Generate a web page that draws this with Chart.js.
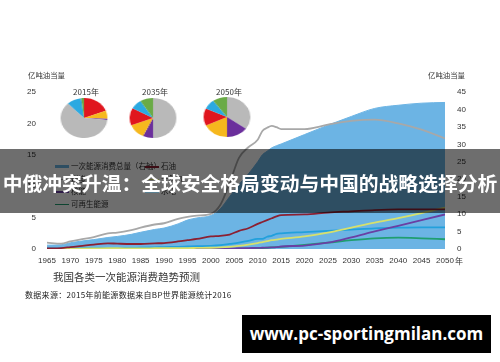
<!DOCTYPE html>
<html>
<head>
<meta charset="utf-8">
<script src="https://cdn.jsdelivr.net/npm/chart.js@4.4.1/dist/chart.umd.min.js"></script>
<style>
    body { margin: 0; background: #fff; }
    #wrap { position: relative; width: 500px; height: 362px; overflow: hidden; font-family: "Noto Sans CJK SC", "Liberation Sans", sans-serif; }
    #mainChart { position: absolute; left: 0; top: 0; }
    .t { position: absolute; white-space: nowrap; line-height: 1; color: #333; }
    .pie { position: absolute; width: 40px; height: 40px; transform: scaleX(1.17); }
    .lg { position: absolute; height: 8px; white-space: nowrap; font-size: 7.5px; line-height: 8px; color: #333; }
    .lg i { display: inline-block; width: 14px; vertical-align: middle; margin-right: 2px; }
    #banner { position: absolute; left: 0; top: 149px; width: 500px; height: 64px; background: rgba(0, 0, 0, 0.57); }
    #bannerText { position: absolute; left: 0; top: 173px; width: 500px; text-align: center; color: #fff; font-weight: bold; font-size: 19.8px; line-height: 20px; white-space: nowrap; }
    #mark { position: absolute; left: 242px; top: 315px; width: 249px; height: 38px; background: #000; color: #fff; font-family: "Open Sans", sans-serif; font-weight: bold; font-size: 17px; line-height: 38px; text-align: center; }
</style>
</head>
<body>
<div id="wrap">
    <canvas id="mainChart" width="500" height="362"></canvas>

    <div class="t" style="left:28px; top:71px; font-size:7.4px;">亿吨油当量</div>
    <div class="t" style="left:428px; top:71px; font-size:7.4px;">亿吨油当量</div>
    <div class="t" style="left:455px; top:257px; font-size:8px;">年</div>

    <div class="t" id="pt0" style="font-size:8px;"></div>
    <div class="t" id="pt1" style="font-size:8px;"></div>
    <div class="t" id="pt2" style="font-size:8px;"></div>
    <div class="pie" style="left:64px; top:98px;"><canvas id="pie0" width="40" height="40"></canvas></div>
    <div class="pie" style="left:133px; top:98px;"><canvas id="pie1" width="40" height="40"></canvas></div>
    <div class="pie" style="left:207px; top:97px;"><canvas id="pie2" width="40" height="40"></canvas></div>

    <div id="legend"></div>

    <div class="t" style="left:53px; top:272px; font-size:10.5px; color:#333;">我国各类一次能源消费趋势预测</div>
    <div class="t" style="left:25px; top:291px; font-size:8px; color:#222; letter-spacing:0.3px;">数据来源：2015年前能源数据来自BP世界能源统计2016</div>

    <div id="banner"></div>
    <div id="bannerText">中俄冲突升温：全球安全格局变动与中国的战略选择分析</div>
    <div id="mark">www.pc-sportingmilan.com</div>
</div>

<script>
// years (irregular steps where the curves bend)
var years = [1965, 1968, 1970, 1972, 1975, 1978, 1980, 1983, 1985, 1988, 1990, 1993, 1995, 1997,
    2000, 2002, 2004, 2006, 2008, 2010, 2011, 2012, 2013, 2014, 2015,
    2020, 2025, 2030, 2035, 2040, 2045, 2050];

// 一次能源消费总量（右轴）
var totalEnergy = [1.1, 1.2, 1.8, 2.2, 2.7, 3.3, 3.6, 4.2, 4.8, 5.6, 6.0, 7.2, 8.3, 8.9,
    9.6, 11.5, 15.0, 18.5, 21.5, 25.0, 27.0, 28.0, 29.0, 29.6, 30.1,
    32.8, 35.5, 38.0, 40.3, 41.2, 41.8, 42.0];
var coal = [1.0, 0.85, 1.2, 1.5, 1.9, 2.5, 2.6, 3.0, 3.4, 3.9, 4.1, 4.8, 5.1, 5.3,
    5.6, 7.0, 10.5, 14.5, 16.2, 17.4, 18.8, 19.3, 19.6, 19.4, 19.1,
    19.1, 19.8, 20.4, 20.6, 20.0, 19.0, 17.6];
var oil = [0.1, 0.15, 0.3, 0.45, 0.7, 0.9, 0.85, 0.8, 0.8, 0.9, 0.95, 1.2, 1.4, 1.6,
    2.0, 2.1, 2.3, 2.9, 3.3, 4.0, 4.3, 4.6, 4.9, 5.2, 5.4,
    5.5, 5.8, 6.0, 6.2, 6.3, 6.3, 6.3];
var gas = [0.02, 0.03, 0.04, 0.05, 0.08, 0.12, 0.12, 0.1, 0.1, 0.12, 0.13, 0.14, 0.15, 0.17,
    0.2, 0.25, 0.35, 0.5, 0.7, 0.95, 1.1, 1.25, 1.4, 1.5, 1.6,
    2.0, 2.6, 3.4, 4.2, 4.9, 5.7, 6.6];
var nuclear = [0, 0, 0, 0, 0, 0, 0, 0, 0, 0, 0, 0.01, 0.03, 0.03,
    0.04, 0.06, 0.1, 0.12, 0.15, 0.17, 0.2, 0.22, 0.25, 0.3, 0.4,
    0.55, 1.0, 1.85, 2.8, 3.7, 4.6, 5.5];
var hydro = [0.1, 0.1, 0.12, 0.13, 0.15, 0.13, 0.13, 0.18, 0.2, 0.25, 0.3, 0.35, 0.4, 0.45,
    0.5, 0.6, 0.8, 1.0, 1.3, 1.6, 1.6, 1.95, 2.1, 2.4, 2.5,
    2.7, 2.9, 3.1, 3.3, 3.4, 3.45, 3.45];
var renewables = [0, 0, 0, 0, 0, 0, 0, 0, 0, 0, 0, 0, 0, 0,
    0, 0, 0.01, 0.02, 0.05, 0.1, 0.15, 0.2, 0.25, 0.3, 0.35,
    0.65, 1.0, 1.4, 1.7, 1.8, 1.7, 1.55];

var leftTicks = [0, 5, 10, 15, 20, 25];
var rightTicks = [0, 5, 10, 15, 20, 25, 30, 35, 40, 45];

// pie charts (clockwise from 12 o'clock, in %)
var pieTitles = ['2015年', '2035年', '2050年'];
var pieOrder2015 = ['石油', '天然气', '核能', '煤炭', '水电', '可再生能源'];
var share2015 = [19, 6.5, 1, 61.5, 10, 2];
var pieOrderLater = ['煤炭', '核能', '天然气', '石油', '水电', '可再生能源'];
var share2035 = [50, 7, 12, 14, 8, 9];
var share2050 = [35, 15, 18, 14, 8, 10];

var pieColors = {
    '煤炭': '#b9b9b9',
    '石油': '#e0161e',
    '天然气': '#f6b81e',
    '核能': '#6b2f9c',
    '水电': '#2ba9e1',
    '可再生能源': '#6aab46'
};

var lineColors = {
    total: '#6cb4e4',
    coal: '#a8a8a8',
    oil: '#8b2032',
    gas: '#d6e06c',
    nuclear: '#6a3fa3',
    hydro: '#22a0dc',
    renewables: '#1f9e70'
};

function pts(arr) {
    return years.map(function (y, i) { return { x: y, y: arr[i] }; });
}

function lineSet(label, arr, color, order) {
    return {
        label: label,
        data: pts(arr),
        borderColor: color,
        backgroundColor: color,
        borderWidth: 1.8,
        pointRadius: 0,
        fill: false,
        cubicInterpolationMode: 'monotone',
        yAxisID: 'y',
        order: order
    };
}

var tickFont = { family: 'Liberation Sans', size: 8 };

new Chart(document.getElementById('mainChart').getContext('2d'), {
    type: 'line',
    data: {
        datasets: [
            lineSet('石油', oil, lineColors.oil, 1),
            lineSet('煤炭', coal, lineColors.coal, 2),
            lineSet('天然气', gas, lineColors.gas, 3),
            lineSet('核能', nuclear, lineColors.nuclear, 4),
            lineSet('水电', hydro, lineColors.hydro, 5),
            lineSet('可再生能源', renewables, lineColors.renewables, 6),
            {
                label: '一次能源消费总量（右轴）',
                data: pts(totalEnergy),
                borderColor: lineColors.total,
                backgroundColor: lineColors.total,
                borderWidth: 1,
                pointRadius: 0,
                fill: 'origin',
                cubicInterpolationMode: 'monotone',
                yAxisID: 'y1',
                order: 10
            }
        ]
    },
    options: {
        responsive: false,
        animation: false,
        events: [],
        layout: { padding: { top: 92, right: 0, bottom: 93, left: 0 } },
        plugins: {
            legend: { display: false },
            tooltip: { enabled: false }
        },
        scales: {
            x: {
                type: 'linear',
                min: 1965,
                max: 2050,
                grid: { display: false, drawTicks: false },
                border: { display: false },
                ticks: {
                    stepSize: 5,
                    autoSkip: false,
                    maxRotation: 0,
                    padding: 7,
                    color: '#333',
                    font: tickFont,
                    callback: function (value) { return String(value); }
                },
                afterFit: function (scale) { scale.height = 20; }
            },
            y: {
                position: 'left',
                min: leftTicks[0],
                max: leftTicks[leftTicks.length - 1],
                grid: { display: false, drawTicks: false },
                border: { display: false },
                ticks: { stepSize: 5, padding: 11, color: '#333', font: tickFont },
                afterFit: function (scale) { scale.width = 47; }
            },
            y1: {
                position: 'right',
                min: rightTicks[0],
                max: rightTicks[rightTicks.length - 1],
                grid: { display: false, drawTicks: false },
                border: { display: false },
                ticks: { stepSize: 5, padding: 12, color: '#333', font: tickFont },
                afterFit: function (scale) { scale.width = 55; }
            }
        }
    }
});

// small pies on top
var pieCenters = [86, 155, 229];
var pieData = [
    { order: pieOrder2015, values: share2015 },
    { order: pieOrderLater, values: share2035 },
    { order: pieOrderLater, values: share2050 }
];

pieData.forEach(function (p, i) {
    var title = document.getElementById('pt' + i);
    title.textContent = pieTitles[i];
    title.style.top = '88px';
    title.style.left = pieCenters[i] + 'px';
    title.style.transform = 'translateX(-50%)';

    new Chart(document.getElementById('pie' + i).getContext('2d'), {
        type: 'pie',
        data: {
            labels: p.order,
            datasets: [{
                data: p.values,
                backgroundColor: p.order.map(function (k) { return pieColors[k]; }),
                borderWidth: 0
            }]
        },
        options: {
            responsive: false,
            animation: false,
            events: [],
            layout: { padding: 0 },
            plugins: { legend: { display: false }, tooltip: { enabled: false } }
        }
    });
});

// legend (mostly under the banner)
var legendItems = [
    { text: '一次能源消费总量（右轴）', color: lineColors.total, w: 3, x: 55, y: 162 },
    { text: '石油', color: lineColors.oil, w: 1.5, x: 145, y: 162 },
    { text: '煤炭', color: lineColors.coal, w: 1.5, x: 55, y: 174.5 },
    { text: '天然气', color: lineColors.gas, w: 1.5, x: 145, y: 174.5 },
    { text: '核能', color: lineColors.nuclear, w: 1.5, x: 55, y: 187 },
    { text: '水电', color: lineColors.hydro, w: 1.5, x: 145, y: 187 },
    { text: '可再生能源', color: lineColors.renewables, w: 1.5, x: 55, y: 199.5 }
];
var legend = document.getElementById('legend');
legendItems.forEach(function (it) {
    var d = document.createElement('div');
    d.className = 'lg';
    d.style.left = it.x + 'px';
    d.style.top = it.y + 'px';
    d.innerHTML = '<i style="height:' + it.w + 'px;background:' + it.color + ';"></i>' + it.text;
    legend.appendChild(d);
});
</script>
</body>
</html>
